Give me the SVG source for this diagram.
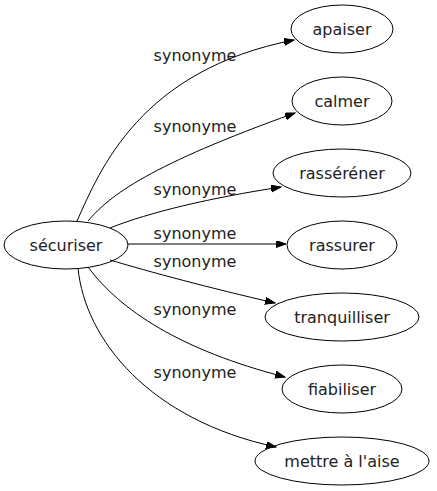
<svg xmlns="http://www.w3.org/2000/svg" width="437" height="491" viewBox="0 0 437 491">
<style>
.n ellipse{fill:none;stroke:#000;stroke-width:1}
text{font-family:"DejaVu Sans",sans-serif;font-size:16px;fill:#222;text-anchor:middle}
.e path{fill:none;stroke:#000;stroke-width:1;marker-end:url(#ah)}
</style>
<defs>
<marker id="ah" markerUnits="userSpaceOnUse" markerWidth="11" markerHeight="8" refX="10" refY="3.5" orient="auto">
<path d="M0,0 L10,3.5 L0,7 z" fill="#000" stroke="#000" stroke-width="1"/>
</marker>
</defs>
<g id="edges" class="e">
<path d="M77,221 C100,170 140,70 294,40"/>
<path d="M88,221 C110,195 150,165 295,113"/>
<path d="M110,228 C150,212 210,198 281,187"/>
<path d="M128,244 L286,244"/>
<path d="M110,260 C150,272 210,288 275,303"/>
<path d="M88,267 C120,310 180,350 285,377"/>
<path d="M78,268 C85,340 150,420 276,447"/>
<text x="195" y="61">synonyme</text>
<text x="195" y="132">synonyme</text>
<text x="195" y="195">synonyme</text>
<text x="195" y="239">synonyme</text>
<text x="195" y="267">synonyme</text>
<text x="195" y="315">synonyme</text>
<text x="195" y="378">synonyme</text>
</g>
<g id="securiser" class="n"><ellipse cx="66" cy="245" rx="62" ry="24"/><text x="66" y="250.5">sécuriser</text></g>
<g id="apaiser" class="n"><ellipse cx="342" cy="29" rx="51" ry="24"/><text x="342" y="34.5">apaiser</text></g>
<g id="calmer" class="n"><ellipse cx="342" cy="101" rx="50" ry="24"/><text x="342" y="106.5">calmer</text></g>
<g id="rasserener" class="n"><ellipse cx="342" cy="173" rx="69" ry="24"/><text x="342" y="178.5">rasséréner</text></g>
<g id="rassurer" class="n"><ellipse cx="342" cy="245" rx="55" ry="24"/><text x="342" y="250.5">rassurer</text></g>
<g id="tranquilliser" class="n"><ellipse cx="342" cy="317" rx="77" ry="24"/><text x="342" y="322.5">tranquilliser</text></g>
<g id="fiabiliser" class="n"><ellipse cx="342" cy="389" rx="60" ry="24"/><text x="342" y="394.5">fiabiliser</text></g>
<g id="mettre" class="n"><ellipse cx="342" cy="461" rx="87" ry="24"/><text x="342" y="466.5">mettre à l'aise</text></g>
</svg>
